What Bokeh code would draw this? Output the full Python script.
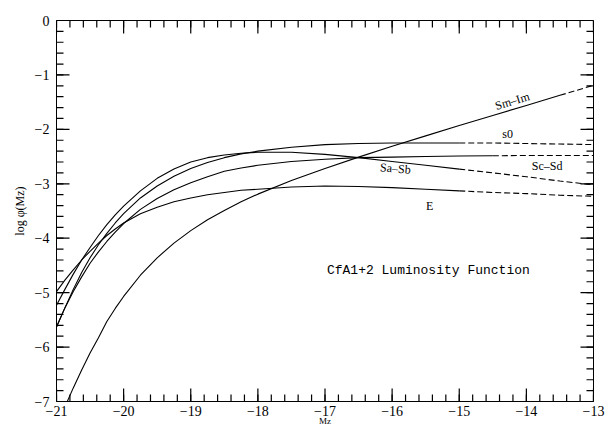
from bokeh.plotting import figure
from bokeh.models import Range1d, FixedTicker
from bokeh.embed import file_html
from bokeh.resources import INLINE
from bokeh.core.properties import value

# ---- data ----
mag = [-21, -20.875, -20.75, -20.625, -20.5, -20.375, -20.25, -20.125, -20,
       -19.75, -19.5, -19.25, -19, -18.75, -18.5, -18.25, -18,
       -17.5, -17, -16.5, -16, -15.5, -15, -14.5, -14, -13.5, -13]

sm_im = [-7.47, -7.10, -6.75, -6.42, -6.11, -5.83, -5.53, -5.29, -5.07,
         -4.68, -4.36, -4.09, -3.86, -3.66, -3.49, -3.33, -3.19,
         -2.94, -2.72, -2.51, -2.31, -2.12, -1.93, -1.745, -1.56, -1.375, -1.19]
s0 = [-5.63, -5.28, -4.94, -4.63, -4.36, -4.12, -3.91, -3.72, -3.55,
      -3.26, -3.04, -2.86, -2.72, -2.61, -2.52, -2.45, -2.40,
      -2.33, -2.28, -2.26, -2.25, -2.25, -2.25, -2.25, -2.26, -2.27, -2.28]
sa_sb = [-5.23, -4.94, -4.66, -4.40, -4.17, -3.95, -3.75, -3.57, -3.41,
         -3.13, -2.90, -2.73, -2.60, -2.52, -2.47, -2.44, -2.42,
         -2.42, -2.46, -2.52, -2.59, -2.66, -2.73, -2.80, -2.87, -2.95, -3.02]
sc_sd = [-5.63, -5.28, -4.98, -4.71, -4.46, -4.25, -4.06, -3.89, -3.73,
         -3.47, -3.27, -3.11, -2.98, -2.87, -2.77, -2.71, -2.66,
         -2.59, -2.55, -2.52, -2.51, -2.50, -2.49, -2.485, -2.48, -2.48, -2.48]
e_type = [-4.98, -4.77, -4.58, -4.40, -4.24, -4.09, -3.95, -3.83, -3.72,
          -3.55, -3.43, -3.33, -3.26, -3.20, -3.16, -3.12, -3.10,
          -3.06, -3.04, -3.05, -3.07, -3.10, -3.13, -3.16, -3.18, -3.21, -3.23]

# magnitude where each curve turns from solid to dashed
solid_end = {"Sm-Im": -13.5, "s0": -15, "Sa-Sb": -15, "Sc-Sd": -14.5, "E": -15}

x_ticks = [-21, -20, -19, -18, -17, -16, -15, -14, -13]
x_tick_labels = ["−21", "−20", "−19", "−18", "−17", "−16", "−15", "−14", "−13"]
y_ticks = [0, -1, -2, -3, -4, -5, -6, -7]
y_tick_labels = ["0", "−1", "−2", "−3", "−4", "−5", "−6", "−7"]
x_minor = [round(-21 + 0.2 * i, 2) for i in range(41)]
y_minor = [round(-7 + 0.2 * i, 2) for i in range(36)]

series = [("Sm-Im", sm_im), ("s0", s0), ("Sa-Sb", sa_sb), ("Sc-Sd", sc_sd), ("E", e_type)]

# curve labels: (text, x, y, angle)
curve_labels = [("Sm–Im", -14.21, -1.48, 0.29), ("s0", -14.28, -2.09, 0.0),
                ("Sa–Sb", -15.95, -2.72, -0.08), ("Sc–Sd", -13.69, -2.68, 0.0),
                ("E", -15.44, -3.41, 0.0)]

FONT = "Liberation Serif"
X0, X1, Y0, Y1 = -21, -13, -7, 0

# ---- figure ----
p = figure(width=607, height=428, output_backend="svg", toolbar_location=None,
           x_range=Range1d(X0, X1), y_range=Range1d(Y0, Y1),
           min_border_left=56, min_border_right=14, min_border_top=20, min_border_bottom=25)
p.grid.visible = False
p.outline_line_color = "black"
p.outline_line_width = 1
p.background_fill_color = "white"
p.border_fill_color = "white"

for ax, ticks, labels in ((p.xaxis[0], x_ticks, x_tick_labels), (p.yaxis[0], y_ticks, y_tick_labels)):
    ax.ticker = FixedTicker(ticks=ticks, minor_ticks=[])
    ax.major_tick_in = 0
    ax.major_tick_out = 0
    ax.minor_tick_in = 0
    ax.minor_tick_out = 0
    ax.axis_line_color = "black"
    ax.major_label_overrides = {t: l for t, l in zip(ticks, labels)}
    ax.major_label_text_font = FONT
    ax.major_label_text_font_size = "14px"
    ax.major_label_text_color = "black"
    ax.axis_label_text_font = FONT
    ax.axis_label_text_font_style = "normal"
    ax.axis_label_text_color = "black"

p.xaxis[0].major_label_standoff = 4
p.xaxis[0].axis_label = "Mz"
p.xaxis[0].axis_label_text_font_size = "9px"
p.xaxis[0].axis_label_standoff = -3
p.yaxis[0].major_label_standoff = 7
p.yaxis[0].axis_label = "log φ(Mz)"
p.yaxis[0].axis_label_text_font_size = "12px"
p.yaxis[0].axis_label_standoff = 5

# inward ticks on all four sides (tick lengths: 13 px major, 7 px minor)
PX_X = (X1 - X0) / 537.0   # data units per pixel, horizontal
PX_Y = (Y1 - Y0) / 383.0   # data units per pixel, vertical
TW = 1.2
TC = "black"
for ticks, n in ((x_ticks, 13), (x_minor, 7)):
    p.segment(x0=ticks, y0=[Y0] * len(ticks), x1=ticks, y1=[Y0 + n * PX_Y] * len(ticks),
              line_color=TC, line_width=TW)
    p.segment(x0=ticks, y0=[Y1] * len(ticks), x1=ticks, y1=[Y1 - n * PX_Y] * len(ticks),
              line_color=TC, line_width=TW)
for ticks, n in ((y_ticks, 13), (y_minor, 7)):
    p.segment(x0=[X0] * len(ticks), y0=ticks, x1=[X0 + n * PX_X] * len(ticks), y1=ticks,
              line_color=TC, line_width=TW)
    p.segment(x0=[X1] * len(ticks), y0=ticks, x1=[X1 - n * PX_X] * len(ticks), y1=ticks,
              line_color=TC, line_width=TW)

for name, vals in series:
    k = mag.index(solid_end[name])
    p.line(mag[:k + 1], vals[:k + 1], line_color="black", line_width=1.1)
    p.line(mag[k:], vals[k:], line_color="black", line_width=1.1, line_dash="6 3")

for text, x, y, ang in curve_labels:
    p.text(x=[x], y=[y], text=[text], angle=ang, text_font=value(FONT),
           text_font_size="12px", text_align="center", text_baseline="middle",
           text_color="black")

p.text(x=[-15.46], y=[-4.60], text=["CfA1+2 Luminosity Function"],
       text_font=value("Liberation Mono"), text_font_size="13px",
       text_align="center", text_baseline="middle", text_color="black")

open("out.html", "w").write(file_html(p, INLINE))
